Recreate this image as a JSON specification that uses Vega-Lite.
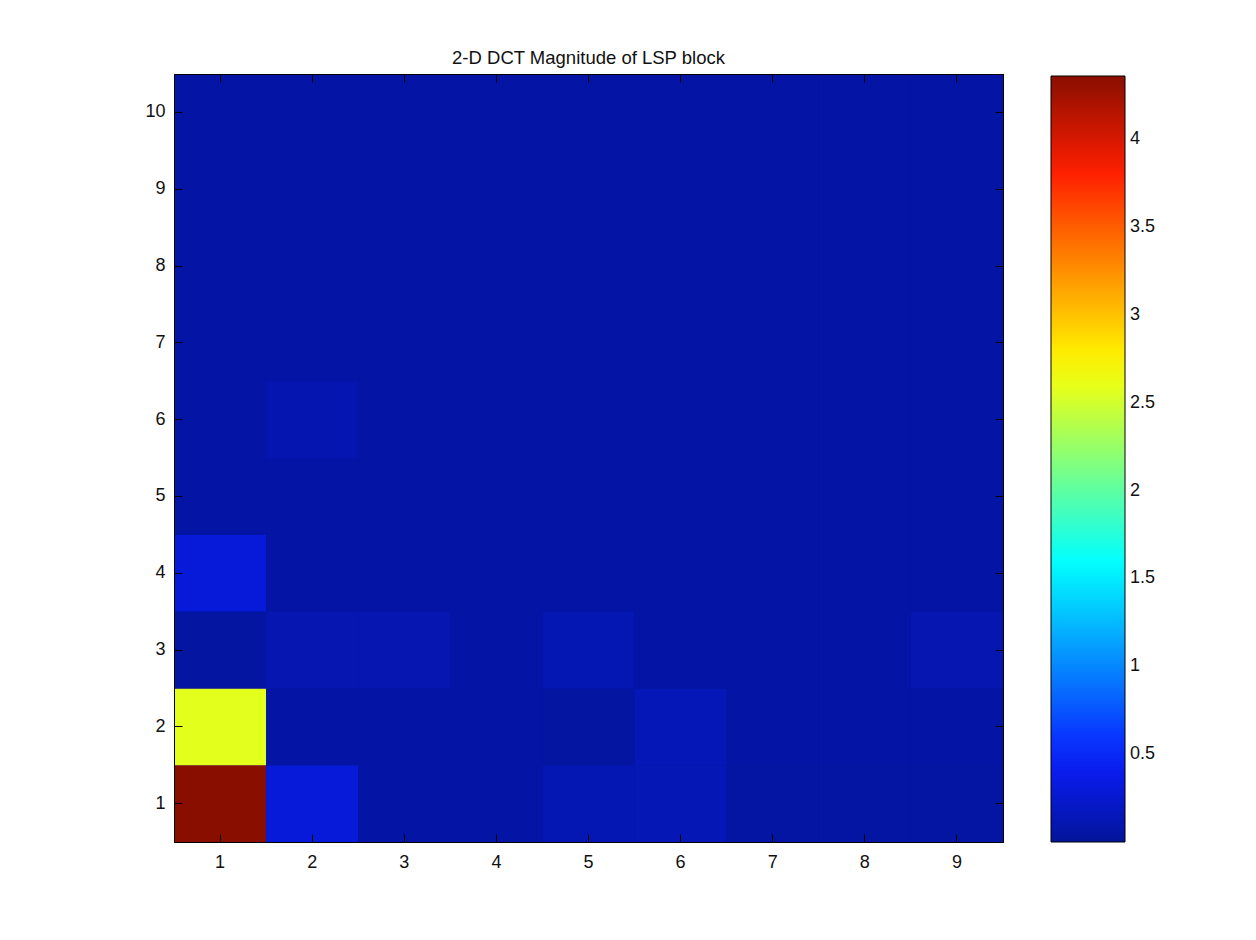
{
  "$schema": "https://vega.github.io/schema/vega-lite/v6.json",
  "autosize": "none",
  "width": 829,
  "height": 768,
  "padding": {"left": 174, "top": 74, "right": 253, "bottom": 98},
  "background": "white",
  "title": {"text": "2-D DCT Magnitude of LSP block", "fontSize": 18.5, "fontWeight": "normal", "font": "Liberation Sans", "color": "#111", "offset": 6, "anchor": "middle"},
  "config": {
    "view": {"stroke": "black", "strokeWidth": 1, "fill": "#04159A"},
    "axis": {"labelFont": "Liberation Sans", "labelFontSize": 18, "labelColor": "#111", "domainColor": "black", "tickColor": "black", "tickSize": -8, "grid": false, "title": null, "labelAngle": 0}
  },
  "data": {"values": [
    {"col": 1, "row": 1, "v": 4.36}, {"col": 2, "row": 1, "v": 0.30}, {"col": 3, "row": 1, "v": 0.05}, {"col": 4, "row": 1, "v": 0.05}, {"col": 5, "row": 1, "v": 0.12}, {"col": 6, "row": 1, "v": 0.13}, {"col": 7, "row": 1, "v": 0.045}, {"col": 8, "row": 1, "v": 0.045}, {"col": 9, "row": 1, "v": 0.045},
    {"col": 1, "row": 2, "v": 2.58}, {"col": 2, "row": 2, "v": 0.05}, {"col": 3, "row": 2, "v": 0.05}, {"col": 4, "row": 2, "v": 0.05}, {"col": 5, "row": 2, "v": 0.04}, {"col": 6, "row": 2, "v": 0.14}, {"col": 7, "row": 2, "v": 0.05}, {"col": 8, "row": 2, "v": 0.05}, {"col": 9, "row": 2, "v": 0.05},
    {"col": 1, "row": 3, "v": 0.04}, {"col": 2, "row": 3, "v": 0.11}, {"col": 3, "row": 3, "v": 0.11}, {"col": 4, "row": 3, "v": 0.05}, {"col": 5, "row": 3, "v": 0.12}, {"col": 6, "row": 3, "v": 0.05}, {"col": 7, "row": 3, "v": 0.05}, {"col": 8, "row": 3, "v": 0.05}, {"col": 9, "row": 3, "v": 0.11},
    {"col": 1, "row": 4, "v": 0.30}, {"col": 2, "row": 4, "v": 0.05}, {"col": 3, "row": 4, "v": 0.05}, {"col": 4, "row": 4, "v": 0.05}, {"col": 5, "row": 4, "v": 0.05}, {"col": 6, "row": 4, "v": 0.05}, {"col": 7, "row": 4, "v": 0.05}, {"col": 8, "row": 4, "v": 0.05}, {"col": 9, "row": 4, "v": 0.05},
    {"col": 1, "row": 5, "v": 0.05}, {"col": 2, "row": 5, "v": 0.05}, {"col": 3, "row": 5, "v": 0.05}, {"col": 4, "row": 5, "v": 0.05}, {"col": 5, "row": 5, "v": 0.05}, {"col": 6, "row": 5, "v": 0.05}, {"col": 7, "row": 5, "v": 0.05}, {"col": 8, "row": 5, "v": 0.05}, {"col": 9, "row": 5, "v": 0.05},
    {"col": 1, "row": 6, "v": 0.05}, {"col": 2, "row": 6, "v": 0.10}, {"col": 3, "row": 6, "v": 0.05}, {"col": 4, "row": 6, "v": 0.05}, {"col": 5, "row": 6, "v": 0.05}, {"col": 6, "row": 6, "v": 0.05}, {"col": 7, "row": 6, "v": 0.05}, {"col": 8, "row": 6, "v": 0.05}, {"col": 9, "row": 6, "v": 0.05},
    {"col": 1, "row": 7, "v": 0.05}, {"col": 2, "row": 7, "v": 0.05}, {"col": 3, "row": 7, "v": 0.05}, {"col": 4, "row": 7, "v": 0.05}, {"col": 5, "row": 7, "v": 0.05}, {"col": 6, "row": 7, "v": 0.05}, {"col": 7, "row": 7, "v": 0.05}, {"col": 8, "row": 7, "v": 0.05}, {"col": 9, "row": 7, "v": 0.05},
    {"col": 1, "row": 8, "v": 0.05}, {"col": 2, "row": 8, "v": 0.05}, {"col": 3, "row": 8, "v": 0.05}, {"col": 4, "row": 8, "v": 0.05}, {"col": 5, "row": 8, "v": 0.05}, {"col": 6, "row": 8, "v": 0.05}, {"col": 7, "row": 8, "v": 0.05}, {"col": 8, "row": 8, "v": 0.05}, {"col": 9, "row": 8, "v": 0.05},
    {"col": 1, "row": 9, "v": 0.05}, {"col": 2, "row": 9, "v": 0.05}, {"col": 3, "row": 9, "v": 0.05}, {"col": 4, "row": 9, "v": 0.05}, {"col": 5, "row": 9, "v": 0.05}, {"col": 6, "row": 9, "v": 0.05}, {"col": 7, "row": 9, "v": 0.05}, {"col": 8, "row": 9, "v": 0.05}, {"col": 9, "row": 9, "v": 0.05},
    {"col": 1, "row": 10, "v": 0.05}, {"col": 2, "row": 10, "v": 0.05}, {"col": 3, "row": 10, "v": 0.05}, {"col": 4, "row": 10, "v": 0.05}, {"col": 5, "row": 10, "v": 0.05}, {"col": 6, "row": 10, "v": 0.05}, {"col": 7, "row": 10, "v": 0.05}, {"col": 8, "row": 10, "v": 0.05}, {"col": 9, "row": 10, "v": 0.05}
  ]},
  "layer": [
    {
      "mark": {"type": "rect", "strokeWidth": 0},
      "encoding": {
        "x": {"field": "col", "type": "ordinal", "scale": {"paddingInner": 0, "paddingOuter": 0}, "axis": {"orient": "bottom", "labelPadding": 19, "domain": true}},
        "y": {"field": "row", "type": "ordinal", "sort": "descending", "scale": {"paddingInner": 0, "paddingOuter": 0}, "axis": {"orient": "left", "labelPadding": 17, "domain": true}},
        "color": {
          "field": "v", "type": "quantitative",
          "scale": {"type": "linear", "domain": [0, 0.48, 1.59, 2.70, 3.81, 4.36], "range": ["#03149A", "#0A1EFF", "#00FFFF", "#FFFF00", "#FF1E00", "#8A0E00"], "zero": false, "nice": false, "interpolate": "rgb"},
          "legend": {"title": null, "orient": "right", "direction": "vertical", "offset": 45, "padding": 2, "gradientLength": 766, "gradientThickness": 74, "gradientStrokeColor": "black", "gradientStrokeWidth": 1, "values": [0.5, 1, 1.5, 2, 2.5, 3, 3.5, 4], "format": "~g", "labelFont": "Liberation Sans", "labelFontSize": 18, "labelColor": "#111", "labelOffset": 5}
        }
      }
    },
    {
      "mark": {"type": "rect", "fillOpacity": 0, "strokeWidth": 0},
      "encoding": {
        "x": {"field": "col", "type": "ordinal", "scale": {"paddingInner": 0, "paddingOuter": 0}, "axis": {"orient": "top", "labels": false, "domain": true}},
        "y": {"field": "row", "type": "ordinal", "sort": "descending", "scale": {"paddingInner": 0, "paddingOuter": 0}, "axis": {"orient": "right", "labels": false, "domain": true}}
      }
    }
  ],
  "resolve": {"axis": {"x": "independent", "y": "independent"}}
}
